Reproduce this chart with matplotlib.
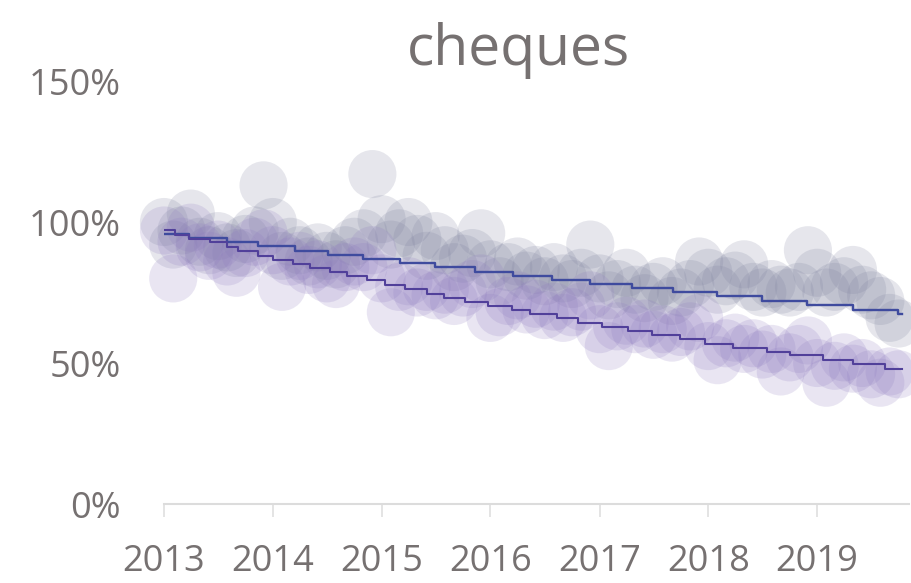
import matplotlib
matplotlib.use("Agg")
import matplotlib.pyplot as plt
import matplotlib.dates as mdates
import pandas as pd

plt.rcParams["font.family"] = ["Open Sans", "DejaVu Sans"]

# monthly index values (%), Jan 2013 .. Oct 2019
months = pd.date_range("2013-01-01", periods=82, freq="MS")

value_index = [
    100, 92, 97, 103, 93, 90, 95, 91, 89, 94, 97, 113,
    100, 88, 93, 90, 86, 91, 88, 85, 90, 93, 96, 117,
    101, 92, 96, 100, 94, 88, 95, 90, 84, 87, 89, 96,
    85, 79, 84, 86, 81, 83, 79, 84, 80, 78, 82, 92,
    80, 74, 78, 82, 76, 73, 77, 79, 72, 75, 78, 86,
    82, 76, 79, 81, 85, 77, 75, 78, 76, 75, 77, 90,
    82, 75, 77, 79, 83, 76, 74, 72, 66, 64,
]

volume_index = [
    97, 80, 93, 98, 91, 88, 92, 86, 82, 89, 93, 96,
    90, 77, 86, 88, 83, 85, 80, 78, 84, 86, 84, 90,
    80, 68, 77, 79, 75, 77, 74, 76, 72, 75, 78, 80,
    66, 68, 72, 74, 69, 71, 67, 70, 66, 68, 70, 74,
    62, 56, 63, 65, 62, 64, 60, 62, 59, 61, 63, 66,
    56, 51, 57, 59, 55, 57, 53, 55, 47, 52, 55, 58,
    50, 43, 49, 52, 48, 50, 46, 43, 47, 46,
]

# stepped trend lines: change dates and levels (%)
value_trend_dates = [
    "2013-01-05", "2013-03-26", "2013-07-31", "2013-11-12", "2014-03-16",
    "2014-07-05", "2014-10-31", "2015-03-03", "2015-06-29", "2015-11-10",
    "2016-03-16", "2016-07-25", "2016-11-29", "2017-04-20", "2017-09-04",
    "2018-01-30", "2018-06-30", "2018-11-28", "2019-05-01", "2019-09-29",
    "2019-10-14",
]
value_trend = [
    95.6, 94.4, 92.75, 91.4, 89.9, 88.3, 86.8, 85.4, 83.9, 82.4,
    81.0, 79.5, 78.0, 76.5, 75.1, 73.6, 72.0, 70.5, 68.9, 67.5, 67.5,
]

volume_trend_dates = [
    "2013-01-05", "2013-02-07", "2013-03-26", "2013-06-04", "2013-07-31",
    "2013-09-06", "2013-11-12", "2014-01-02", "2014-03-10", "2014-05-06",
    "2014-07-12", "2014-09-07", "2014-11-13", "2015-01-12", "2015-03-20",
    "2015-06-02", "2015-07-29", "2015-10-08", "2015-12-24", "2016-03-13",
    "2016-05-13", "2016-08-11", "2016-10-21", "2017-01-09", "2017-04-07",
    "2017-06-26", "2017-09-28", "2017-12-21", "2018-03-25", "2018-07-17",
    "2018-10-02", "2019-01-21", "2019-05-01", "2019-08-17", "2019-10-13",
]
volume_trend = [
    97.0, 95.3, 94.1, 92.8, 91.1, 89.6, 88.1, 86.6, 85.2, 83.6,
    82.2, 80.7, 79.3, 77.7, 76.2, 74.6, 73.2, 71.6, 70.1, 68.7,
    67.3, 65.8, 64.3, 62.7, 61.3, 59.9, 58.4, 56.8, 55.4, 53.9,
    52.7, 51.0, 49.5, 47.9, 47.9,
]

TEXT = "#767171"

fig = plt.figure(figsize=(9.12, 5.83), dpi=100)
ax = fig.add_axes([0.1798, 0.1355, 0.8169, 0.7255])

ax.scatter(months, value_index, s=1200, color="#7b7f9c", alpha=0.19,
           edgecolors="none", clip_on=False, zorder=2)
ax.scatter(months, volume_index, s=1200, color="#8d7abf", alpha=0.19,
           edgecolors="none", clip_on=False, zorder=2)

ax.plot(pd.to_datetime(value_trend_dates), value_trend, drawstyle="steps-post",
        color="#3f4b9e", lw=1.7, zorder=3)
ax.plot(pd.to_datetime(volume_trend_dates), volume_trend, drawstyle="steps-post",
        color="#51409a", lw=1.5, zorder=3)

ax.set_xlim(pd.Timestamp("2013-01-01"), pd.Timestamp("2019-11-05"))
ax.set_ylim(0, 150)
ax.set_yticks([0, 50, 100, 150])
ax.yaxis.set_major_formatter(plt.FuncFormatter(lambda v, p: f"{v:.0f}%"))
ax.xaxis.set_major_locator(mdates.YearLocator())
ax.xaxis.set_major_formatter(mdates.DateFormatter("%Y"))

for side in ["top", "right", "left"]:
    ax.spines[side].set_visible(False)
ax.spines["bottom"].set_color("#dcdcdc")
ax.spines["bottom"].set_linewidth(1.5)

ax.tick_params(axis="x", length=9, width=1.1, color="#dcdcdc",
               labelsize=26, labelcolor=TEXT, pad=20)
ax.tick_params(axis="y", length=0, labelsize=26, labelcolor=TEXT, pad=31)
ax.set_facecolor("none")

fig.text(0.569, 0.8885, "cheques", ha="center", va="baseline",
         fontsize=41, color=TEXT)

fig.savefig("out.png", dpi=100)
